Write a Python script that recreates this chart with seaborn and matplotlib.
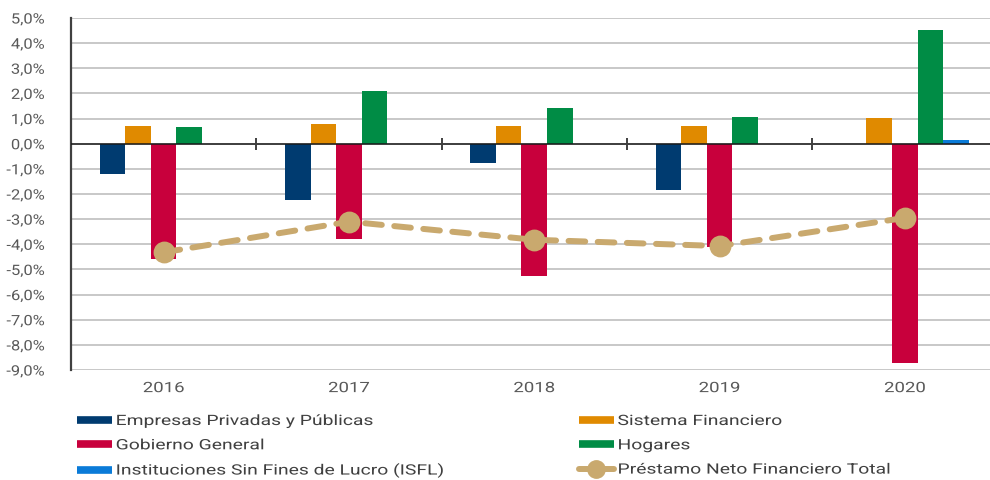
import matplotlib
matplotlib.use("Agg")
import matplotlib.pyplot as plt
from matplotlib.lines import Line2D
from matplotlib.patheffects import AbstractPathEffect
from matplotlib.transforms import Affine2D
from matplotlib.ticker import FuncFormatter, MultipleLocator
import numpy as np
import pandas as pd
import seaborn as sns

# Sectoral net lending (% of GDP)
years = ["2016", "2017", "2018", "2019", "2020"]
empresas = [-1.22, -2.25, -0.75, -1.83, -0.03]
sistema_financiero = [0.72, 0.80, 0.70, 0.72, 1.03]
gobierno = [-4.57, -3.80, -5.25, -4.10, -8.72]
hogares = [0.68, 2.10, 1.43, 1.07, 4.53]
isfl = [0.0, 0.0, 0.0, 0.0, 0.16]
prestamo_total = [-4.32, -3.10, -3.82, -4.07, -2.95]

sectors = [
    "Empresas Privadas y Públicas",
    "Sistema Financiero",
    "Gobierno General",
    "Hogares",
    "Instituciones Sin Fines de Lucro (ISFL)",
]
series = [empresas, sistema_financiero, gobierno, hogares, isfl]
colors = ["#003B70", "#E08A00", "#C8003C", "#008C45", "#0A7BD8"]
line_label = "Préstamo Neto Financiero Total"
line_color = "#C9A96E"

df = pd.DataFrame(
    [(y, s, v) for s, vals in zip(sectors, series) for y, v in zip(years, vals)],
    columns=["year", "sector", "value"],
)


class WideText(AbstractPathEffect):
    """Draw text glyphs stretched horizontally about a fixed anchor."""

    def __init__(self, sx, anchor="left"):
        super().__init__()
        self.sx = sx
        self.anchor = anchor

    def draw_path(self, renderer, gc, tpath, affine, rgbFace=None):
        ext = tpath.get_extents()
        if self.anchor == "center":
            x0 = (ext.x0 + ext.x1) / 2
        elif self.anchor == "right":
            x0 = ext.x1
        else:
            x0 = 0.0
        stretch = Affine2D().translate(-x0, 0).scale(self.sx, 1).translate(x0, 0)
        renderer.draw_path(gc, tpath, stretch + affine, rgbFace)


FS = 10.3

sns.set_theme(style="white")
plt.rcParams["font.family"] = ["Roboto", "DejaVu Sans"]
plt.rcParams["lines.scale_dashes"] = False

fig = plt.figure(figsize=(9.9, 4.8), dpi=100)
ax = fig.add_axes([71 / 990, 110 / 480, 1 - 71 / 990, 352 / 480])

sns.barplot(
    data=df, x="year", y="value", hue="sector", hue_order=sectors,
    palette=colors, width=0.69, saturation=1, ax=ax, legend=False, zorder=3,
    linewidth=0,
)

sns.pointplot(
    x=years, y=prestamo_total, color=line_color, markers="o",
    ax=ax, markersize=12.5, linewidth=4.3,
)
for ln in ax.lines:
    ln.set_dashes((12, 9))
    ln.set_dash_capstyle("round")
    ln.set_zorder(5)
    ln.set_markeredgecolor(line_color)

ax.set_xlim(-0.5, -0.5 + (990 - 71) / 185.3)
ax.set_ylim(-9, 5)
ax.yaxis.set_major_locator(MultipleLocator(1))
ax.yaxis.set_major_formatter(FuncFormatter(lambda v, p: f"{v:.1f}%".replace(".", ",")))
ax.grid(axis="y", color="#C4C4C4", linewidth=1.3, zorder=0)
ax.set_axisbelow(True)
ax.axhline(0, color="#1A1A1A", linewidth=1.1, zorder=4)

for side in ["top", "right", "bottom"]:
    ax.spines[side].set_visible(False)
ax.spines["left"].set_color("#404040")
ax.spines["left"].set_linewidth(1.6)

ax.set_xlabel("")
ax.set_ylabel("")
ax.tick_params(axis="y", length=0, pad=19, labelsize=FS, labelcolor="#595959")
ax.tick_params(axis="x", length=0, pad=8, labelsize=FS, labelcolor="#595959")
for lbl in ax.get_yticklabels():
    lbl.set_path_effects([WideText(1.15, "right")])
for lbl in ax.get_xticklabels():
    lbl.set_path_effects([WideText(1.3, "center")])

# category separator marks on the zero line
sec = ax.secondary_xaxis(9 / 14)
sec.spines["bottom"].set_visible(False)
sec.spines["top"].set_visible(False)
sec.set_xticks(np.arange(len(years) - 1) + 0.5)
sec.set_xticklabels([])
sec.tick_params(axis="x", direction="inout", length=9, width=1.4, color="#404040")

handles = [Line2D([], [], color=c, lw=5.5, solid_capstyle="butt") for c in colors]
line_handle = Line2D([], [], color=line_color, lw=4.3, marker="o", markersize=12.5,
                     solid_capstyle="round")
order = [0, 2, 4, 1, 3]
leg_handles = [handles[i] for i in order] + [line_handle]
leg_labels = [sectors[i] for i in order] + [line_label]
leg = fig.legend(
    leg_handles, leg_labels, loc="upper left", bbox_to_anchor=(77 / 990, 1 - 414 / 480),
    ncol=2, frameon=False, fontsize=FS, handlelength=2.45, handletextpad=0.25,
    labelspacing=0.72, columnspacing=15.5, borderpad=0, borderaxespad=0,
)
for t in leg.get_texts():
    t.set_color("#404040")
    t.set_path_effects([WideText(1.35, "left")])

fig.savefig("out.png", dpi=100)
